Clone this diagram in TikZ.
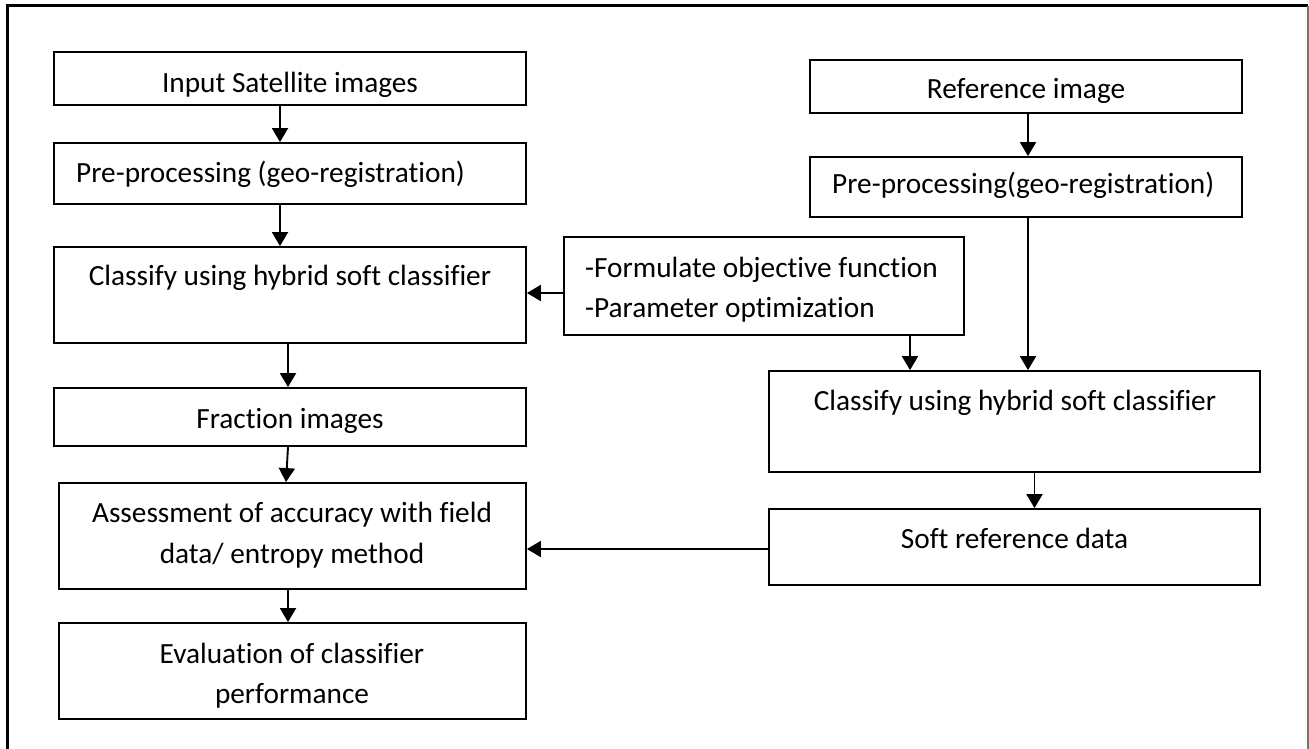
\documentclass[tikz,border=0pt]{standalone}
\usepackage{fontspec}
\setmainfont{Carlito}[Ligatures=NoCommon]
\usetikzlibrary{arrows.meta}

\tikzset{
  box/.style={draw=black, line width=1.8pt, rectangle, inner sep=0pt},
  txt/.style={inner sep=0pt, font=\fontsize{29.3}{41}\selectfont, anchor=base},
  txtl/.style={txt, anchor=base west},
  arr/.style={line width=1.9pt, -{Triangle[length=14pt,width=16pt]}}
}

\begin{document}
\begin{tikzpicture}[x=1pt,y=-1pt]
  \useasboundingbox (0,0) rectangle (1309,748);

  % outer frame
  \draw[line width=2.7pt, black] (7.5,760) -- (7.5,5.5) -- (1308,5.5);
  \draw[line width=1.3pt, black!55] (1308,5.5) -- (1308,760);

  % left column boxes
  \node[box, minimum width=472pt, minimum height=53pt]  (b1) at (290,78.5) {};
  \node[box, minimum width=472pt, minimum height=61pt]  (b2) at (290,173.5) {};
  \node[box, minimum width=472pt, minimum height=96pt]  (b3) at (290,295) {};
  \node[box, minimum width=472pt, minimum height=58pt]  (b4) at (290,417) {};
  \node[box, minimum width=467pt, minimum height=106pt] (b5) at (292.5,536) {};
  \node[box, minimum width=467pt, minimum height=96pt]  (b6) at (292.5,671) {};

  % right column boxes
  \node[box, minimum width=432pt, minimum height=53pt]  (r1) at (1026,86.5) {};
  \node[box, minimum width=432pt, minimum height=60pt]  (r2) at (1026,187) {};
  \node[box, minimum width=400pt, minimum height=98pt]  (obj) at (764,286) {};
  \node[box, minimum width=491pt, minimum height=101pt] (r3) at (1014.5,421.5) {};
  \node[box, minimum width=491pt, minimum height=76pt]  (r4) at (1014.5,547) {};

  % texts
  \node[txt]  (t1)  at (290,92)   {Input Satellite images};
  \node[txtl] (t2)  at (76,182)   {Pre-processing (geo-registration)};
  \node[txt]  (t3)  at (290,285)  {Classify using hybrid soft classifier};
  \node[txt]  (t4)  at (290,428)  {Fraction images};
  \node[txt]  (t5a) at (292,522)  {Assessment of accuracy with field};
  \node[txt]  (t5b) at (292,563)  {data/ entropy method};
  \node[txt]  (t6a) at (292,663)  {Evaluation of classifier};
  \node[txt]  (t6b) at (292,703)  {performance};

  \node[txt]  (s1)  at (1026,98)  {Reference image};
  \node[txtl] (s2)  at (832,193)  {Pre-processing(geo-registration)};
  \node[txtl] (o1)  at (585,277)  {-Formulate objective function};
  \node[txtl] (o2)  at (585,317)  {-Parameter optimization};
  \node[txt]  (s3)  at (1015,410) {Classify using hybrid soft classifier};
  \node[txt]  (s4)  at (1014.5,548) {Soft reference data};

  % left column flow
  \draw[arr] ([xshift=-10pt]b1.south) -- ([xshift=-10pt]b2.north);
  \draw[arr] ([xshift=-10pt]b2.south) -- ([xshift=-10pt]b3.north);
  \draw[arr] ([xshift=-2pt]b3.south)  -- ([xshift=-2pt]b4.north);
  \draw[arr] ([xshift=-2pt]b4.south)  -- ([xshift=-6.5pt]b5.north);
  \draw[arr] ([xshift=-4.5pt]b5.south) -- ([xshift=-4.5pt]b6.north);

  % right column flow
  \draw[arr] ([xshift=2pt]r1.south) -- ([xshift=2pt]r2.north);
  \draw[arr] ([xshift=2pt]r2.south) -- ([xshift=2pt]r2.south |- r3.north);
  \draw[arr] ([xshift=146pt]obj.south) -- ([xshift=146pt]obj.south |- r3.north);
  \draw[arr] ([xshift=20pt]r3.south) -- ([xshift=20pt]r4.north);

  % cross links
  \draw[arr] ([yshift=-7pt]obj.west) -- ([yshift=-7pt]obj.west -| b3.east);
  \draw[arr] ([yshift=-2pt]r4.west) -- ([yshift=-2pt]r4.west -| b5.east);
\end{tikzpicture}
\end{document}
